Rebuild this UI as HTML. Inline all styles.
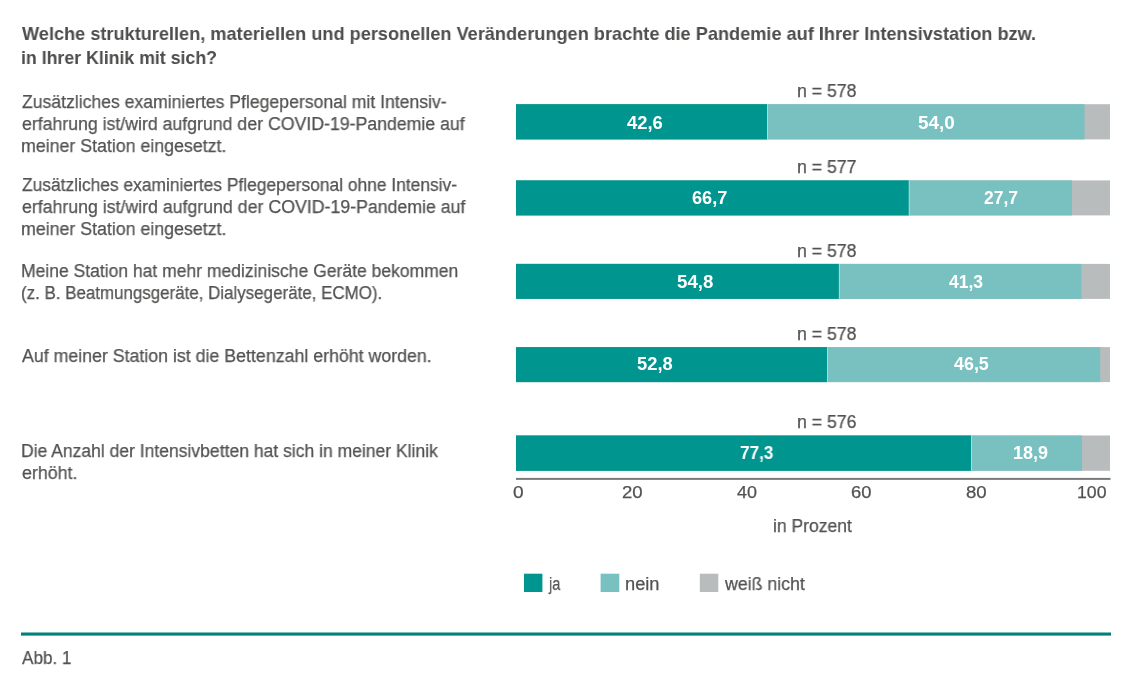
<!DOCTYPE html>
<html><head><meta charset="utf-8"><style>
html,body{margin:0;padding:0;background:#fff;}
body{width:1140px;height:683px;position:relative;overflow:hidden;font-family:"Liberation Sans",sans-serif;}
.t{position:absolute;will-change:transform;white-space:nowrap;transform-origin:0 0;line-height:20px;height:20px;}
.r{position:absolute;}
</style></head><body>

<svg width="1140" height="683" viewBox="0 0 1140 683" style="position:absolute;left:0;top:0"><rect x="516.00" y="104.20" width="594.00" height="35.20" fill="#b9bcbd"/><rect x="516.00" y="104.20" width="568.50" height="35.20" fill="#78c1c0"/><rect x="516.00" y="104.20" width="251.00" height="35.20" fill="#00958f"/><rect x="767.00" y="104.20" width="1.00" height="35.20" fill="#a9dbd9"/><rect x="516.00" y="180.40" width="594.00" height="35.00" fill="#b9bcbd"/><rect x="516.00" y="180.40" width="556.00" height="35.00" fill="#78c1c0"/><rect x="516.00" y="180.40" width="392.80" height="35.00" fill="#00958f"/><rect x="908.80" y="180.40" width="1.00" height="35.00" fill="#a9dbd9"/><rect x="516.00" y="263.90" width="594.00" height="35.00" fill="#b9bcbd"/><rect x="516.00" y="263.90" width="565.40" height="35.00" fill="#78c1c0"/><rect x="516.00" y="263.90" width="322.90" height="35.00" fill="#00958f"/><rect x="838.90" y="263.90" width="1.00" height="35.00" fill="#a9dbd9"/><rect x="516.00" y="347.10" width="594.00" height="35.00" fill="#b9bcbd"/><rect x="516.00" y="347.10" width="584.20" height="35.00" fill="#78c1c0"/><rect x="516.00" y="347.10" width="311.00" height="35.00" fill="#00958f"/><rect x="827.00" y="347.10" width="1.00" height="35.00" fill="#a9dbd9"/><rect x="516.00" y="435.50" width="594.00" height="35.30" fill="#b9bcbd"/><rect x="516.00" y="435.50" width="566.00" height="35.30" fill="#78c1c0"/><rect x="516.00" y="435.50" width="455.00" height="35.30" fill="#00958f"/><rect x="971.00" y="435.50" width="1.00" height="35.30" fill="#a9dbd9"/><rect x="516.00" y="477.90" width="594.50" height="2.00" fill="#7a7a7a"/><rect x="21.00" y="632.50" width="1090.00" height="3.10" fill="#00807a"/><rect x="524.00" y="573.70" width="18.40" height="18.30" fill="#00958f"/><rect x="600.60" y="573.70" width="18.70" height="18.30" fill="#78c1c0"/><rect x="699.80" y="573.70" width="18.50" height="18.30" fill="#b9bcbd"/></svg>
<div class="t" id="t0" style="left:22.00px;top:24.00px;font-size:19.00px;font-weight:700;color:#4d4d4c;transform:scaleX(0.9557)">Welche strukturellen, materiellen und personellen Veränderungen brachte die Pandemie auf Ihrer Intensivstation bzw.</div>
<div class="t" id="t1" style="left:21.07px;top:48.00px;font-size:19.00px;font-weight:700;color:#4d4d4c;transform:scaleX(0.9327)">in Ihrer Klinik mit sich?</div>
<div class="t" id="t2" style="left:22.01px;top:92.00px;font-size:18.00px;font-weight:400;color:#525251;-webkit-text-stroke:0.25px #525251;transform:scaleX(0.9778)">Zusätzliches examiniertes Pflegepersonal mit Intensiv-</div>
<div class="t" id="t3" style="left:22.01px;top:114.00px;font-size:18.00px;font-weight:400;color:#525251;-webkit-text-stroke:0.25px #525251;transform:scaleX(0.9831)">erfahrung ist/wird aufgrund der COVID-19-Pandemie auf</div>
<div class="t" id="t4" style="left:21.01px;top:136.00px;font-size:18.00px;font-weight:400;color:#525251;-webkit-text-stroke:0.25px #525251;transform:scaleX(0.9874)">meiner Station eingesetzt.</div>
<div class="t" id="t5" style="left:22.02px;top:175.00px;font-size:18.00px;font-weight:400;color:#525251;-webkit-text-stroke:0.25px #525251;transform:scaleX(0.9662)">Zusätzliches examiniertes Pflegepersonal ohne Intensiv-</div>
<div class="t" id="t6" style="left:22.01px;top:197.00px;font-size:18.00px;font-weight:400;color:#525251;-webkit-text-stroke:0.25px #525251;transform:scaleX(0.9847)">erfahrung ist/wird aufgrund der COVID-19-Pandemie auf</div>
<div class="t" id="t7" style="left:21.01px;top:219.00px;font-size:18.00px;font-weight:400;color:#525251;-webkit-text-stroke:0.25px #525251;transform:scaleX(0.9874)">meiner Station eingesetzt.</div>
<div class="t" id="t8" style="left:21.04px;top:261.00px;font-size:18.00px;font-weight:400;color:#525251;-webkit-text-stroke:0.25px #525251;transform:scaleX(0.9732)">Meine Station hat mehr medizinische Geräte bekommen</div>
<div class="t" id="t9" style="left:21.04px;top:283.00px;font-size:18.00px;font-weight:400;color:#525251;-webkit-text-stroke:0.25px #525251;transform:scaleX(0.9401)">(z. B. Beatmungsgeräte, Dialysegeräte, ECMO).</div>
<div class="t" id="t10" style="left:21.99px;top:346.00px;font-size:18.00px;font-weight:400;color:#525251;-webkit-text-stroke:0.25px #525251;transform:scaleX(0.9865)">Auf meiner Station ist die Bettenzahl erhöht worden.</div>
<div class="t" id="t11" style="left:21.04px;top:441.00px;font-size:18.00px;font-weight:400;color:#525251;-webkit-text-stroke:0.25px #525251;transform:scaleX(0.9733)">Die Anzahl der Intensivbetten hat sich in meiner Klinik</div>
<div class="t" id="t12" style="left:21.97px;top:463.00px;font-size:18.00px;font-weight:400;color:#525251;-webkit-text-stroke:0.25px #525251;transform:scaleX(0.9897)">erhöht.</div>
<div class="t" id="t13" style="left:797.01px;top:81.00px;font-size:18.00px;font-weight:400;color:#525251;-webkit-text-stroke:0.25px #525251;transform:scaleX(0.9831)">n = 578</div>
<div class="t" id="t14" style="left:627.00px;top:113.00px;font-size:17.50px;font-weight:700;color:#ffffff;transform:scaleX(1.0507)">42,6</div>
<div class="t" id="t15" style="left:917.96px;top:113.00px;font-size:17.50px;font-weight:700;color:#ffffff;transform:scaleX(1.0796)">54,0</div>
<div class="t" id="t16" style="left:797.01px;top:157.00px;font-size:18.00px;font-weight:400;color:#525251;-webkit-text-stroke:0.25px #525251;transform:scaleX(0.9831)">n = 577</div>
<div class="t" id="t17" style="left:691.99px;top:188.00px;font-size:17.50px;font-weight:700;color:#ffffff;transform:scaleX(1.0360)">66,7</div>
<div class="t" id="t18" style="left:984.00px;top:188.00px;font-size:17.50px;font-weight:700;color:#ffffff;transform:scaleX(1.0009)">27,7</div>
<div class="t" id="t19" style="left:797.01px;top:241.00px;font-size:18.00px;font-weight:400;color:#525251;-webkit-text-stroke:0.25px #525251;transform:scaleX(0.9831)">n = 578</div>
<div class="t" id="t20" style="left:676.95px;top:272.00px;font-size:17.50px;font-weight:700;color:#ffffff;transform:scaleX(1.0674)">54,8</div>
<div class="t" id="t21" style="left:948.98px;top:272.00px;font-size:17.50px;font-weight:700;color:#ffffff;transform:scaleX(1.0009)">41,3</div>
<div class="t" id="t22" style="left:797.01px;top:324.00px;font-size:18.00px;font-weight:400;color:#525251;-webkit-text-stroke:0.25px #525251;transform:scaleX(0.9831)">n = 578</div>
<div class="t" id="t23" style="left:636.97px;top:354.00px;font-size:17.50px;font-weight:700;color:#ffffff;transform:scaleX(1.0493)">52,8</div>
<div class="t" id="t24" style="left:954.00px;top:354.00px;font-size:17.50px;font-weight:700;color:#ffffff;transform:scaleX(1.0213)">46,5</div>
<div class="t" id="t25" style="left:797.01px;top:412.00px;font-size:18.00px;font-weight:400;color:#525251;-webkit-text-stroke:0.25px #525251;transform:scaleX(0.9831)">n = 576</div>
<div class="t" id="t26" style="left:739.98px;top:443.00px;font-size:17.50px;font-weight:700;color:#ffffff;transform:scaleX(0.9801)">77,3</div>
<div class="t" id="t27" style="left:1012.97px;top:443.00px;font-size:17.50px;font-weight:700;color:#ffffff;transform:scaleX(1.0303)">18,9</div>
<div class="t" id="t28" style="left:512.90px;top:483.00px;font-size:17.00px;font-weight:400;color:#525251;-webkit-text-stroke:0.25px #525251;transform:scaleX(1.1223)">0</div>
<div class="t" id="t29" style="left:621.91px;top:483.00px;font-size:17.00px;font-weight:400;color:#525251;-webkit-text-stroke:0.25px #525251;transform:scaleX(1.0917)">20</div>
<div class="t" id="t30" style="left:736.99px;top:483.00px;font-size:17.00px;font-weight:400;color:#525251;-webkit-text-stroke:0.25px #525251;transform:scaleX(1.0553)">40</div>
<div class="t" id="t31" style="left:850.93px;top:483.00px;font-size:17.00px;font-weight:400;color:#525251;-webkit-text-stroke:0.25px #525251;transform:scaleX(1.0805)">60</div>
<div class="t" id="t32" style="left:965.87px;top:483.00px;font-size:17.00px;font-weight:400;color:#525251;-webkit-text-stroke:0.25px #525251;transform:scaleX(1.0949)">80</div>
<div class="t" id="t33" style="left:1076.95px;top:483.00px;font-size:17.00px;font-weight:400;color:#525251;-webkit-text-stroke:0.25px #525251;transform:scaleX(1.0384)">100</div>
<div class="t" id="t34" style="left:773.00px;top:516.00px;font-size:18.00px;font-weight:400;color:#525251;-webkit-text-stroke:0.25px #525251;transform:scaleX(0.9729)">in Prozent</div>
<div class="t" id="t35" style="left:548.80px;top:574.00px;font-size:18.00px;font-weight:400;color:#525251;-webkit-text-stroke:0.25px #525251;transform:scaleX(0.8048)">ja</div>
<div class="t" id="t36" style="left:624.99px;top:574.00px;font-size:18.00px;font-weight:400;color:#525251;-webkit-text-stroke:0.25px #525251;transform:scaleX(1.0134)">nein</div>
<div class="t" id="t37" style="left:724.99px;top:574.00px;font-size:18.00px;font-weight:400;color:#525251;-webkit-text-stroke:0.25px #525251;transform:scaleX(0.9853)">weiß nicht</div>
<div class="t" id="t38" style="left:21.94px;top:648.00px;font-size:19.00px;font-weight:400;color:#525251;-webkit-text-stroke:0.25px #525251;transform:scaleX(0.9022)">Abb. 1</div>
</body></html>
